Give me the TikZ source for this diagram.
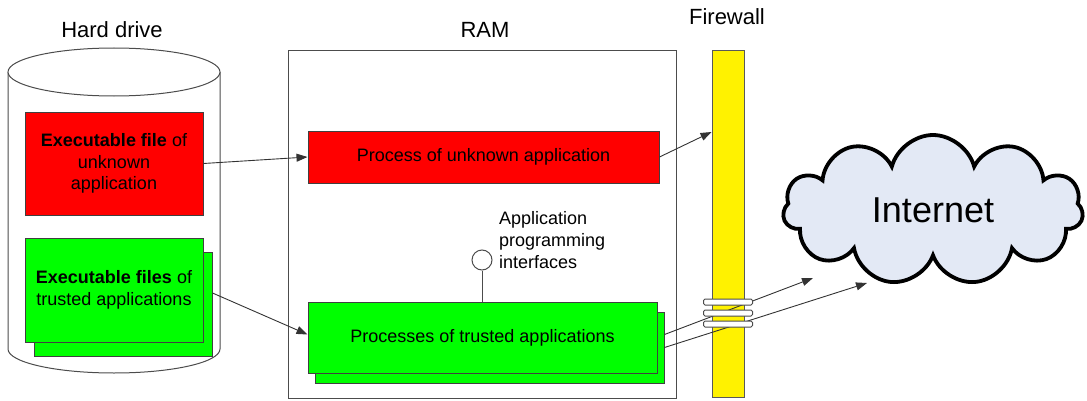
\documentclass[tikz,border=0pt]{standalone}
\usepackage{fontspec}
\setmainfont{Liberation Sans}
\usetikzlibrary{arrows.meta,shapes.symbols}
\definecolor{cloudblue}{RGB}{227,233,245}
\tikzset{
	title/.style={font=\fontsize{22}{26}\selectfont, inner sep=0pt},
	box/.style={draw=black!75, line width=1pt, inner sep=0pt, align=center, font=\fontsize{18}{21.6}\selectfont},
	port/.style={draw=black!70, fill=white, rounded corners=1.5pt, line width=1pt, minimum width=49, minimum height=6, inner sep=0pt},
	conn/.style={draw=black!80, line width=0.9pt, -{Triangle[length=11pt,width=8pt]}}
}

\begin{document}
\begin{tikzpicture}[x=1pt,y=1pt]
	\useasboundingbox (0,0) rectangle (1087,400);
	
	% hard drive
	\draw[black!70, line width=1pt, fill=white] (8,328) -- (8,51) arc[start angle=180, end angle=360, x radius=106, y radius=24] -- (220,328);
	\draw[black!70, line width=1pt, fill=white] (114,328) ellipse[x radius=106, y radius=24];
	\node[title] (hdlbl) at (112,370) {Hard drive};
	
	\node[box, fill=red, minimum width=178, minimum height=103] (exefile) at (114,236.5) {\textbf{Executable file} of\\unknown\\application};
	\node[box, fill=green, minimum width=178, minimum height=104] (filesb) at (123,96) {};
	\node[box, fill=green, minimum width=178, minimum height=104] (files) at (114,110) {\textbf{Executable files} of\\trusted applications};
	
	% RAM
	\draw[black!70, line width=1pt] (288,2) rectangle (676,349);
	\node[title] (ramlbl) at (485,370) {RAM};
	
	\node[box, fill=red, minimum width=351, minimum height=52] (procu) at (483.5,243) {Process of unknown application};
	\node[box, fill=green, minimum width=349, minimum height=71] (procsb) at (489.5,52.5) {};
	\node[box, fill=green, minimum width=349, minimum height=71] (procs) at (482.5,62.5) {Processes of trusted applications};
	
	% interfaces
	\node[circle, draw=black!70, line width=1pt, fill=white, minimum size=20, inner sep=0pt] (api) at (482,140) {};
	\draw[black!70, line width=1pt] (api.south) -- (api.south |- procs.north);
	\node[anchor=west, align=left, inner sep=0pt, font=\fontsize{18}{22}\selectfont] (apilbl) at (499,160) {Application\\programming\\interfaces};
	
	% firewall
	\node[draw=black!65, line width=1pt, fill=yellow, minimum width=32, minimum height=346, inner sep=0pt] (fw) at (728,176) {};
	\node[title] (fwlbl) at (727,383) {Firewall};
	
	% internet
	\node[cloud, cloud puffs=11, cloud ignores aspect, minimum width=300, minimum height=150, draw, line width=3.8pt, fill=cloudblue, font=\fontsize{36}{40}\selectfont] (net) at (933,190) {Internet};
	\coordinate (in1) at (813,122);
	\coordinate (in2) at (867,117);
	
	% connections
	\draw[conn] (exefile.east) -- (procu.west);
	\draw[conn] ([yshift=11]filesb.east) -- ([yshift=3]procs.west);
	\draw[conn] (procu.east) -- ([yshift=92]fw.west);
	\draw[conn] ([yshift=13]procsb.east) -- (in1);
	\draw[conn] (procsb.east) -- (in2);
	
	% ports
	\foreach \y [count=\i] in {98,87,76} {
		\node[port] (port\i) at (728,\y) {};
	}
\end{tikzpicture}
\end{document}
